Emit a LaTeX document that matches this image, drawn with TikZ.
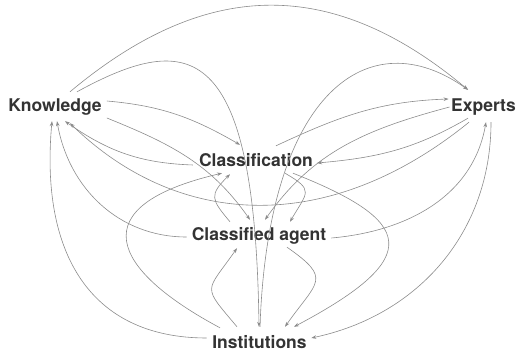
\documentclass[tikz,border=0pt]{standalone}
\usepackage{fontspec}
\setmainfont{TeX Gyre Heros}
\usetikzlibrary{arrows.meta}
\definecolor{linegray}{RGB}{140,140,140}
\definecolor{textgray}{RGB}{51,51,51}

\begin{document}
\begin{tikzpicture}[x=1pt, y=1pt,
	concept/.style={font=\fontsize{17.5}{20}\selectfont\bfseries, text=textgray, inner sep=2pt, text height=13pt, text depth=4pt},
	link/.style={draw=linegray, line width=0.6pt, -{Stealth[length=5pt, width=3.6pt]}}]
	\useasboundingbox (0,0) rectangle (516,353);
	% the five concepts
	\node[concept] (know) at (55,245.5) {Knowledge};
	\node[concept] (exp) at (483.5,245.5) {Experts};
	\node[concept] (clf) at (256,190.5) {Classification};
	\node[concept] (agt) at (259,116.5) {Classified agent};
	\node[concept] (inst) at (259.5,9.5) {Institutions};
	
	% from Knowledge
	\draw[link] ([shift={(15,5)}]know.north) .. controls (206,375) and (332,377) .. ([shift={(-15.5,7)}]exp.north);
	\draw[link] ([shift={(22,5)}]know.north) .. controls (190,323) and (255,313) .. ([shift={(-0.5,6)}]inst.north);
	\draw[link] ([shift={(3,6.5)}]know.east) to[out=-5,in=150] ([shift={(-16,7)}]clf.north);
	\draw[link] ([shift={(3,-10.5)}]know.east) to[out=-22,in=125] ([shift={(-9,6)}]agt.north);
	
	% from Experts
	\draw[link] ([shift={(-15.5,0)}]exp.south) to[out=210,in=5] ([shift={(2,-0.5)}]clf.east);
	\draw[link] ([shift={(0.5,0.5)}]exp.west) to[out=195,in=55] ([shift={(6,6)}]agt.north);
	\draw[link] ([shift={(-14.5,-4)}]exp.south) .. controls (330,118) and (180,123) .. ([shift={(15,-5)}]know.south);
	\draw[link] ([shift={(7.5,-4)}]exp.south) to[out=-90,in=12] ([shift={(2.5,5.5)}]inst.east);
	
	% from Classification
	\draw[link] ([shift={(-4,-2.5)}]clf.west) to[out=178,in=-35] ([shift={(10,-3)}]know.south);
	\draw[link] ([shift={(20,6)}]clf.north) to[out=25,in=182] ([shift={(-0.5,8.5)}]exp.west);
	\draw[link] ([shift={(29,0)}]clf.south) to[out=-30,in=60,looseness=1.8] ([shift={(31,4)}]agt.north);
	\draw[link] ([shift={(37,0)}]clf.south) .. controls (414,132) and (426,96) .. ([shift={(34.5,6)}]inst.north);
	
	% from Classified agent
	\draw[link] ([shift={(-3,-0.5)}]agt.west) to[out=180,in=-80] ([shift={(2,-3)}]know.south);
	\draw[link] ([shift={(3,-1.5)}]agt.east) to[out=5,in=-100] ([shift={(2.5,-4)}]exp.south);
	\draw[link] ([shift={(-29,4)}]agt.north) to[out=130,in=-135,looseness=1.6] ([shift={(-26,-1)}]clf.south);
	\draw[link] ([shift={(28,0)}]agt.south) to[out=-35,in=55,looseness=1.8] ([shift={(25.5,6)}]inst.north);
	
	% from Institutions
	\draw[link] ([shift={(-3.5,5.5)}]inst.west) .. controls (90,15) and (40,100) .. ([shift={(-3,-3)}]know.south);
	\draw[link] ([shift={(0.5,6)}]inst.north) .. controls (268,263) and (370,333) .. ([shift={(-15.5,7)}]exp.north);
	\draw[link] ([shift={(-39.5,5)}]inst.north) .. controls (110,84) and (81,147) .. ([shift={(-34,0)}]clf.south);
	\draw[link] ([shift={(-22.5,6)}]inst.north) to[out=130,in=-125,looseness=1.8] ([shift={(-22,-1)}]agt.south);
\end{tikzpicture}
\end{document}
